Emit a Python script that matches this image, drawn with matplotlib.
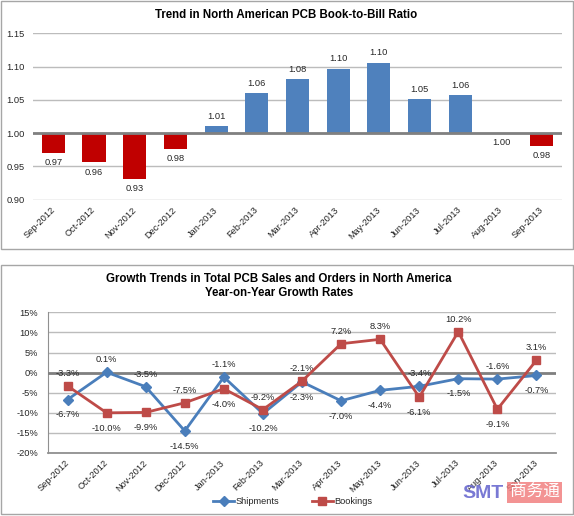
import matplotlib
matplotlib.use('Agg')
import matplotlib.pyplot as plt
from matplotlib.patches import Rectangle
from matplotlib.lines import Line2D

plt.rcParams['font.family'] = ['Liberation Sans', 'DejaVu Sans']

months = ['Sep-2012', 'Oct-2012', 'Nov-2012', 'Dec-2012', 'Jan-2013', 'Feb-2013', 'Mar-2013',
          'Apr-2013', 'May-2013', 'Jun-2013', 'Jul-2013', 'Aug-2013', 'Sep-2013']

# book-to-bill ratio (bar heights as drawn) and the labels shown on them
ratio = [0.970, 0.956, 0.931, 0.976, 1.011, 1.060, 1.081, 1.097, 1.106, 1.051, 1.057, 1.000, 0.981]
ratio_labels = ['0.97', '0.96', '0.93', '0.98', '1.01', '1.06', '1.08', '1.10', '1.10', '1.05', '1.06', '1.00', '0.98']

# year-on-year growth, %
shipments = [-6.7, 0.1, -3.5, -14.5, -1.1, -10.2, -2.3, -7.0, -4.4, -3.4, -1.5, -1.6, -0.7]
bookings = [-3.3, -10.0, -9.9, -7.5, -4.0, -9.2, -2.1, 7.2, 8.3, -6.1, 10.2, -9.1, 3.1]

W, H = 574, 516
fig = plt.figure(figsize=(W / 100, H / 100), dpi=100)

def box(x0, y0, x1, y1):
    # pixel box (top-left origin) -> figure fraction rect
    return [x0 / W, 1 - y1 / H, (x1 - x0) / W, (y1 - y0) / H]

# panel frames
for (x0, y0, x1, y1) in [(1, 1, 573, 249), (1, 265, 573, 514)]:
    r = box(x0, y0, x1, y1)
    fig.patches.append(Rectangle((r[0], r[1]), r[2], r[3], transform=fig.transFigure,
                                 fill=False, edgecolor='#a6a6a6', lw=1.0))

grid_c = '#bcbcbc'
txt_c = '#262626'
fs = 6.7

# ---- top: book-to-bill bars ----
ax1 = fig.add_axes(box(33, 33, 562, 200))
x = list(range(len(months)))
colors = ['#4f81bd' if v > 1.0 else '#c00000' for v in ratio]
heights = [v - 1.0 for v in ratio]
ax1.bar(x, heights, bottom=1.0, width=0.57, color=colors, zorder=3)
ax1.set_xlim(-0.5, 12.5)
ax1.set_ylim(0.8995, 1.1505)
ax1.set_yticks([0.90, 0.95, 1.00, 1.05, 1.10, 1.15])
ax1.set_yticklabels(['0.90', '0.95', '1.00', '1.05', '1.10', '1.15'])
ax1.yaxis.grid(True, color=grid_c, lw=1.0, zorder=0)
ax1.axhline(1.0, color='#808080', lw=2.0, zorder=4)
for s in ax1.spines.values():
    s.set_visible(False)
ax1.tick_params(axis='y', length=0, pad=6, labelsize=fs, labelcolor=txt_c)
ax1.set_xticks(x)
ax1.set_xticklabels(months, rotation=45, ha='right', va='center', rotation_mode='anchor')
ax1.tick_params(axis='x', length=0, pad=6, labelsize=fs, labelcolor=txt_c)
for i, v in enumerate(ratio):
    off = 7 if v > 1.0 else -7
    ax1.annotate(ratio_labels[i], (i, v), xytext=(0, off), textcoords='offset points',
                 ha='center', va='center', fontsize=fs, color=txt_c)

fig.text(286 / W, 1 - 15 / H, 'Trend in North American PCB Book-to-Bill Ratio',
         ha='center', va='center', fontsize=8.3, fontweight='bold', color='black')

# ---- bottom: growth lines ----
ax2 = fig.add_axes(box(48, 312, 556, 453))
ax2.plot(x, shipments, color='#4a7ebb', lw=2.0, marker='D', markersize=4.8, zorder=4)
ax2.plot(x, bookings, color='#be4b48', lw=2.0, marker='s', markersize=6, zorder=5)
ax2.set_xlim(-0.5, 12.5)
ax2.set_ylim(-20, 15.1)
ticks = [-20, -15, -10, -5, 0, 5, 10, 15]
ax2.set_yticks(ticks)
ax2.set_yticklabels([f'{t}%' for t in ticks])
ax2.yaxis.grid(True, color=grid_c, lw=1.0, zorder=0)
ax2.axhline(0, color='#808080', lw=2.0, zorder=3)
for k in ['top', 'right']:
    ax2.spines[k].set_visible(False)
ax2.spines['left'].set_color('#909090')
ax2.spines['bottom'].set_color('#909090')
ax2.spines['bottom'].set_linewidth(1.3)
ax2.tick_params(axis='y', length=0, pad=7, labelsize=fs, labelcolor=txt_c)
ax2.set_xticks(x)
ax2.set_xticklabels(months, rotation=45, ha='right', va='center', rotation_mode='anchor')
ax2.tick_params(axis='x', length=0, pad=6, labelsize=fs, labelcolor=txt_c)
for i in x:
    s, b = shipments[i], bookings[i]
    up_s = s > b
    ax2.annotate(f'{s:.1f}%', (i, s), xytext=(0, 9 if up_s else -11), textcoords='offset points',
                 ha='center', va='center', fontsize=fs, color=txt_c)
    ax2.annotate(f'{b:.1f}%', (i, b), xytext=(0, -11 if up_s else 9), textcoords='offset points',
                 ha='center', va='center', fontsize=fs, color=txt_c)

fig.text(279 / W, 1 - 279 / H, 'Growth Trends in Total PCB Sales and Orders in North America',
         ha='center', va='center', fontsize=8.3, fontweight='bold', color='black')
fig.text(279 / W, 1 - 293 / H, 'Year-on-Year Growth Rates',
         ha='center', va='center', fontsize=8.3, fontweight='bold', color='black')

handles = [Line2D([], [], color='#4a7ebb', lw=2.0, marker='D', markersize=4.8),
           Line2D([], [], color='#be4b48', lw=2.0, marker='s', markersize=6)]
fig.legend(handles, ['Shipments', 'Bookings'], loc='center', bbox_to_anchor=(293 / W, 1 - 502 / H),
           ncol=2, frameon=False, fontsize=fs, handlelength=2.2, handletextpad=0.2,
           columnspacing=3.5, labelcolor=txt_c)

# watermark
fig.text(483 / W, 1 - 493 / H, 'SMT', ha='center', va='center', fontsize=14, fontweight='bold',
         color='#6a6ad0', alpha=0.9, zorder=10)
r = box(507, 482, 562, 503)
fig.patches.append(Rectangle((r[0], r[1]), r[2], r[3], transform=fig.transFigure,
                             facecolor='#f07878', edgecolor='none', alpha=0.8, zorder=10))
fig.text(534.5 / W, 1 - 492.5 / H, '商务通', ha='center', va='center', fontsize=12,
         family=['Noto Sans CJK SC', 'DejaVu Sans'], color='white', zorder=11)

fig.savefig('out.png', dpi=100)
